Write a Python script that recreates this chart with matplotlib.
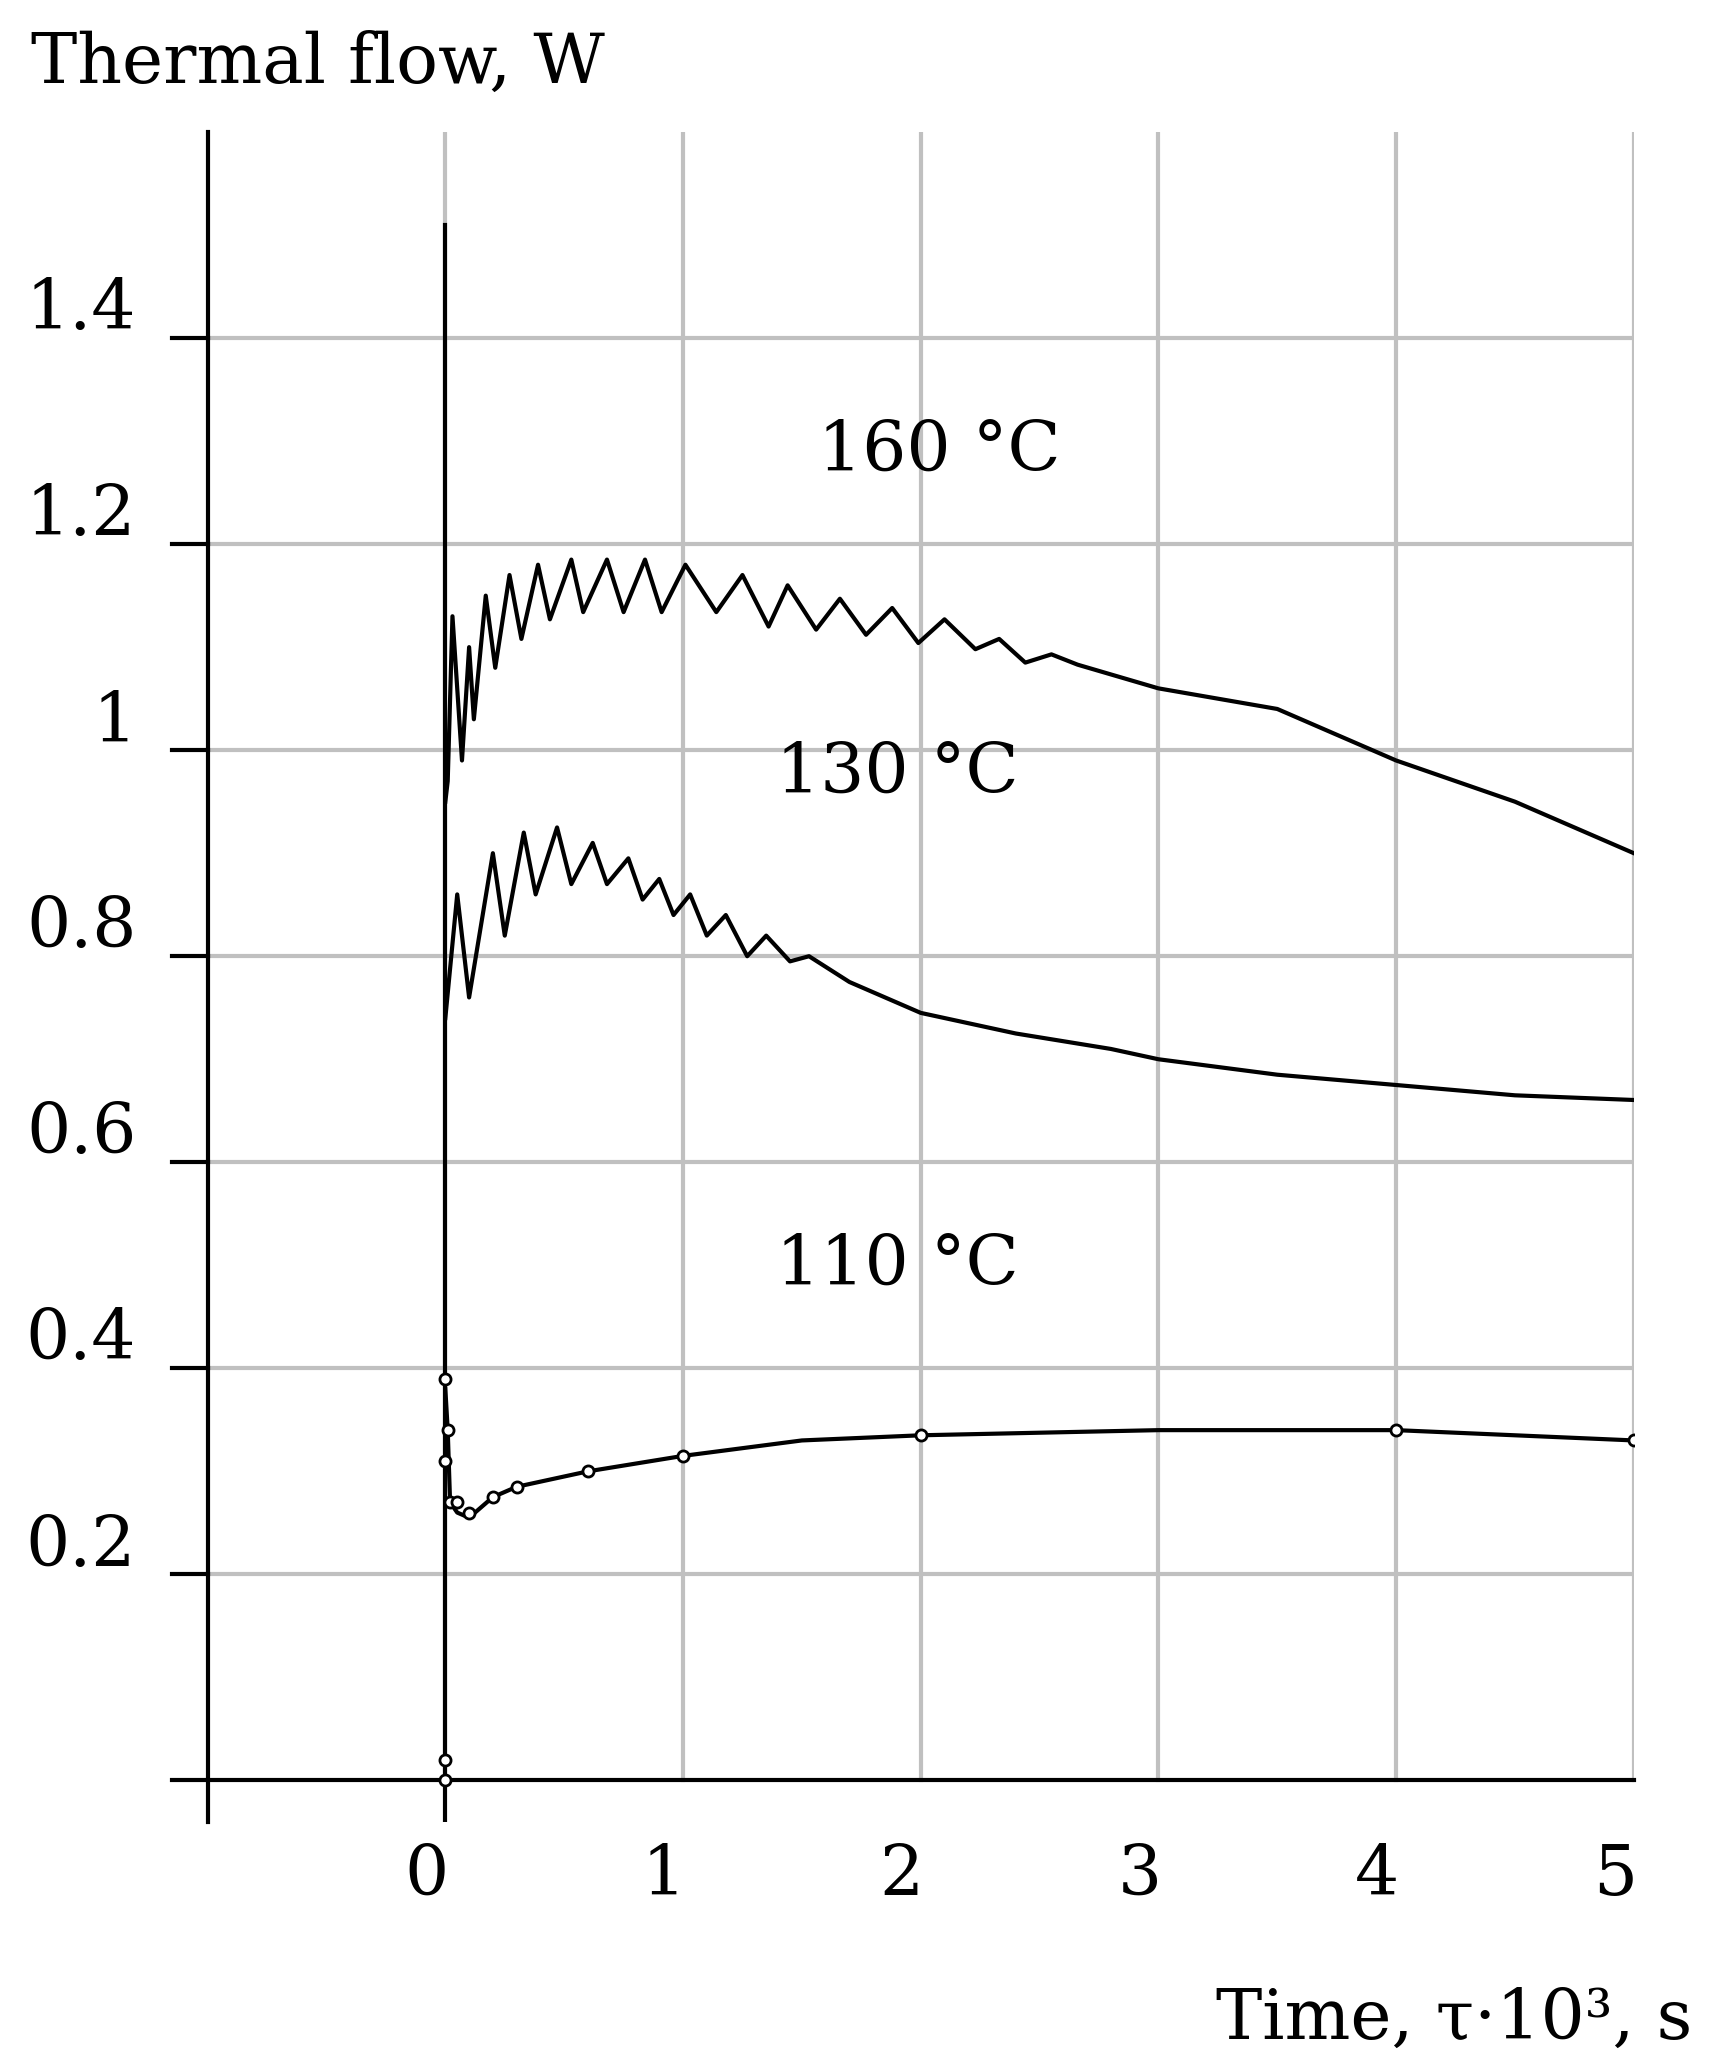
import matplotlib
matplotlib.use("Agg")
import matplotlib.pyplot as plt

x160 = [0.0, 0.01, 0.03, 0.07, 0.10, 0.12, 0.17, 0.21, 0.27, 0.32, 0.39, 0.44, 0.53, 0.58, 0.68, 0.75, 0.84, 0.91,
        1.01, 1.14, 1.25, 1.36, 1.44, 1.56, 1.66, 1.77, 1.88, 1.99, 2.1, 2.23, 2.33, 2.44, 2.55, 2.66, 3.0, 3.5, 4.0, 4.5, 5.0]
y160 = [0.95, 0.97, 1.13, 0.99, 1.10, 1.03, 1.15, 1.08, 1.17, 1.108, 1.18, 1.127, 1.185, 1.134, 1.185, 1.134, 1.185, 1.134,
        1.18, 1.134, 1.17, 1.12, 1.16, 1.117, 1.147, 1.112, 1.138, 1.104, 1.127, 1.098, 1.108, 1.085, 1.093, 1.083, 1.06, 1.04, 0.99, 0.95, 0.90]

x130 = [0.0, 0.05, 0.10, 0.2, 0.25, 0.33, 0.38, 0.47, 0.53, 0.62, 0.68, 0.77, 0.83, 0.9, 0.96, 1.03, 1.1, 1.18, 1.27,
        1.35, 1.45, 1.53, 1.7, 2.0, 2.4, 2.8, 3.0, 3.5, 4.0, 4.5, 5.05]
y130 = [0.74, 0.86, 0.76, 0.90, 0.82, 0.92, 0.86, 0.925, 0.87, 0.91, 0.87, 0.895, 0.855, 0.875, 0.84, 0.86, 0.82, 0.84, 0.80,
        0.82, 0.795, 0.80, 0.775, 0.745, 0.725, 0.71, 0.70, 0.685, 0.675, 0.665, 0.66]

x110 = [0.0, 0.01, 0.02, 0.05, 0.1, 0.2, 0.3, 0.6, 1.0, 1.5, 2.0, 3.0, 4.0, 5.0]
y110 = [0.38, 0.34, 0.27, 0.26, 0.255, 0.275, 0.285, 0.30, 0.315, 0.33, 0.335, 0.34, 0.34, 0.33]
mx110 = [0.0, 0.0, 0.01, 0.0, 0.0, 0.02, 0.05, 0.1, 0.2, 0.3, 0.6, 1.0, 2.0, 4.0, 5.0]
my110 = [0.39, 0.31, 0.34, 0.02, 0.0, 0.27, 0.27, 0.26, 0.275, 0.285, 0.30, 0.315, 0.335, 0.34, 0.33]

spike_x = [0.0, 0.0]
spike_y = [-0.04, 1.51]

yticks = [0.2, 0.4, 0.6, 0.8, 1.0, 1.2, 1.4]
ylabels = ["0.2", "0.4", "0.6", "0.8", "1", "1.2", "1.4"]
xticks = [0, 1, 2, 3, 4, 5]
xlabels = ["0", "1", "2", "3", "4", "5"]

plt.rcParams['font.family'] = ['DejaVu Serif']
fig = plt.figure(figsize=(17.09, 20.63), dpi=100)
ax = fig.add_axes([0.1215, 0.117, 0.8345, 0.819])
ax.set_xlim(-1, 5)
ax.set_ylim(-0.04, 1.6)
ax.axis('off')
fs = 50
for t in xticks:
    ax.plot([t, t], [0, 1.6], color='#c0c0c0', lw=3, zorder=1)
for t in yticks:
    ax.plot([-1, 5], [t, t], color='#c0c0c0', lw=3, zorder=1)
for t, l in zip(yticks, ylabels):
    ax.plot([-1.15, -1], [t, t], color='black', lw=3, clip_on=False)
    ax.text(-1.3, t - 0.005, l, ha='right', va='bottom', fontsize=fs)
ax.plot([-1.15, 5], [0, 0], color='black', lw=3, clip_on=False)
ax.plot([-1, -1], [-0.04, 1.6], color='black', lw=3, clip_on=False)
for t, l in zip(xticks, xlabels):
    ax.text(t - 0.08, -0.06, l, ha='center', va='top', fontsize=fs)

ax.plot(spike_x, spike_y, color='black', lw=3, zorder=3)
ax.plot(x160, y160, color='black', lw=3, zorder=3)
ax.plot(x130, y130, color='black', lw=3, zorder=3)
ax.plot(x110, y110, color='black', lw=3, zorder=3)
ax.plot(mx110, my110, 'o', ms=8, mfc='white', mec='black', mew=2, zorder=4)

ax.text(2.08, 1.29, "160 °C", ha='center', va='center', fontsize=fs)
ax.text(1.9, 0.977, "130 °C", ha='center', va='center', fontsize=fs)
ax.text(1.9, 0.50, "110 °C", ha='center', va='center', fontsize=fs)
fig.text(0.018, 0.985, "Thermal flow, W", ha='left', va='top', fontsize=fs)
fig.text(0.99, 0.005, "Time, τ·10³, s", ha='right', va='bottom', fontsize=fs)

fig.savefig("out.png", dpi=100)
